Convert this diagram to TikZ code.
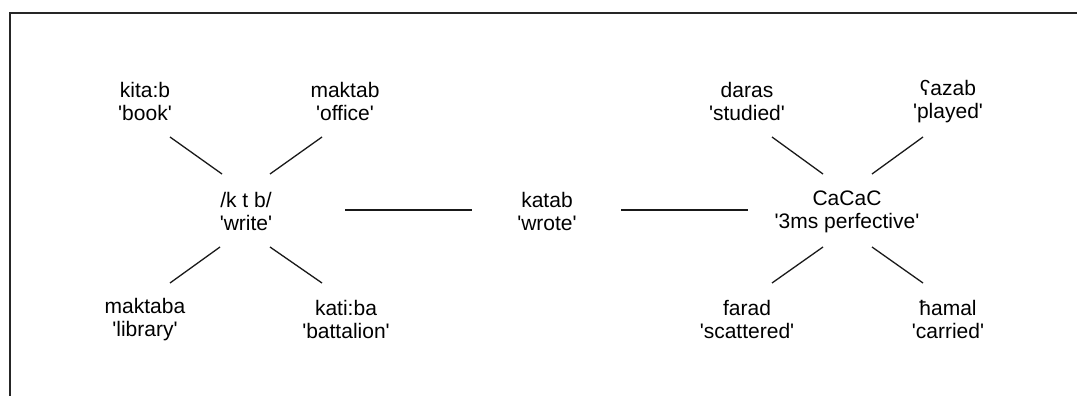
\documentclass[tikz,border=0pt]{standalone}
\usepackage{fontspec}
\setmainfont{Liberation Sans}
\usetikzlibrary{calc}
% straight single quotes around a gloss
\newcommand\gloss[1]{\textquotesingle#1\textquotesingle}
\tikzset{
  word/.style={align=center, inner sep=0pt, font=\fontsize{21}{23}\selectfont},
  link/.style={line width=1.3pt, draw=black!90}
}
\begin{document}
\begin{tikzpicture}[x=1pt,y=-1pt]
\useasboundingbox (0,0) rectangle (1077,396);
% frame: top and left edges only
\draw[line width=2pt, black!85] (1077,13) -- (10,13) -- (10,396);

% root /k t b/ and its derivatives
\node[word] (ktb)     at (246,211.5) {/k t b/\\\gloss{write}};
\node[word] (kitab)   at (145,101.5) {kita:b\\\gloss{book}};
\node[word] (maktab)  at (345,101.5) {maktab\\\gloss{office}};
\node[word] (maktaba) at (145,319.5) {maktaba\\\gloss{library}};
\node[word] (katiba)  at (346,319.5) {kati:ba\\\gloss{battalion}};

% the word built from root and pattern
\node[word] (katab)   at (547,211.5) {katab\\\gloss{wrote}};

% pattern CaCaC and its instances
\node[word] (cacac)   at (847,211.5) {CaCaC\\\gloss{3ms perfective}};
\node[word] (daras)   at (747,101.5) {daras\\\gloss{studied}};
\node[word] (azab)    at (948,101.5) {ʕazab\\\gloss{played}};
\node[word] (farad)   at (747,319.5) {farad\\\gloss{scattered}};
\node[word] (hamal)   at (948,319.5) {ħamal\\\gloss{carried}};

% spokes around the root
\draw[link] ($(kitab)+(25,35.5)$)   -- ($(ktb)+(-24,-37.5)$);
\draw[link] ($(maktab)+(-23,35.5)$) -- ($(ktb)+(24,-37.5)$);
\draw[link] ($(ktb)+(-26,35.5)$)    -- ($(maktaba)+(25,-36.5)$);
\draw[link] ($(ktb)+(24,35.5)$)     -- ($(katiba)+(-24,-36.5)$);

% spokes around the pattern
\draw[link] ($(daras)+(25,35.5)$)   -- ($(cacac)+(-24,-37.5)$);
\draw[link] ($(azab)+(-25,35.5)$)   -- ($(cacac)+(25,-37.5)$);
\draw[link] ($(cacac)+(-24,35.5)$)  -- ($(farad)+(25,-36.5)$);
\draw[link] ($(cacac)+(25,35.5)$)   -- ($(hamal)+(-25,-36.5)$);

% root + pattern -> word
\draw[link] ($(ktb)+(99,-1.5)$)   -- ($(katab)+(-75,-1.5)$);
\draw[link] ($(katab)+(74,-1.5)$) -- ($(cacac)+(-99,-1.5)$);
\end{tikzpicture}
\end{document}
